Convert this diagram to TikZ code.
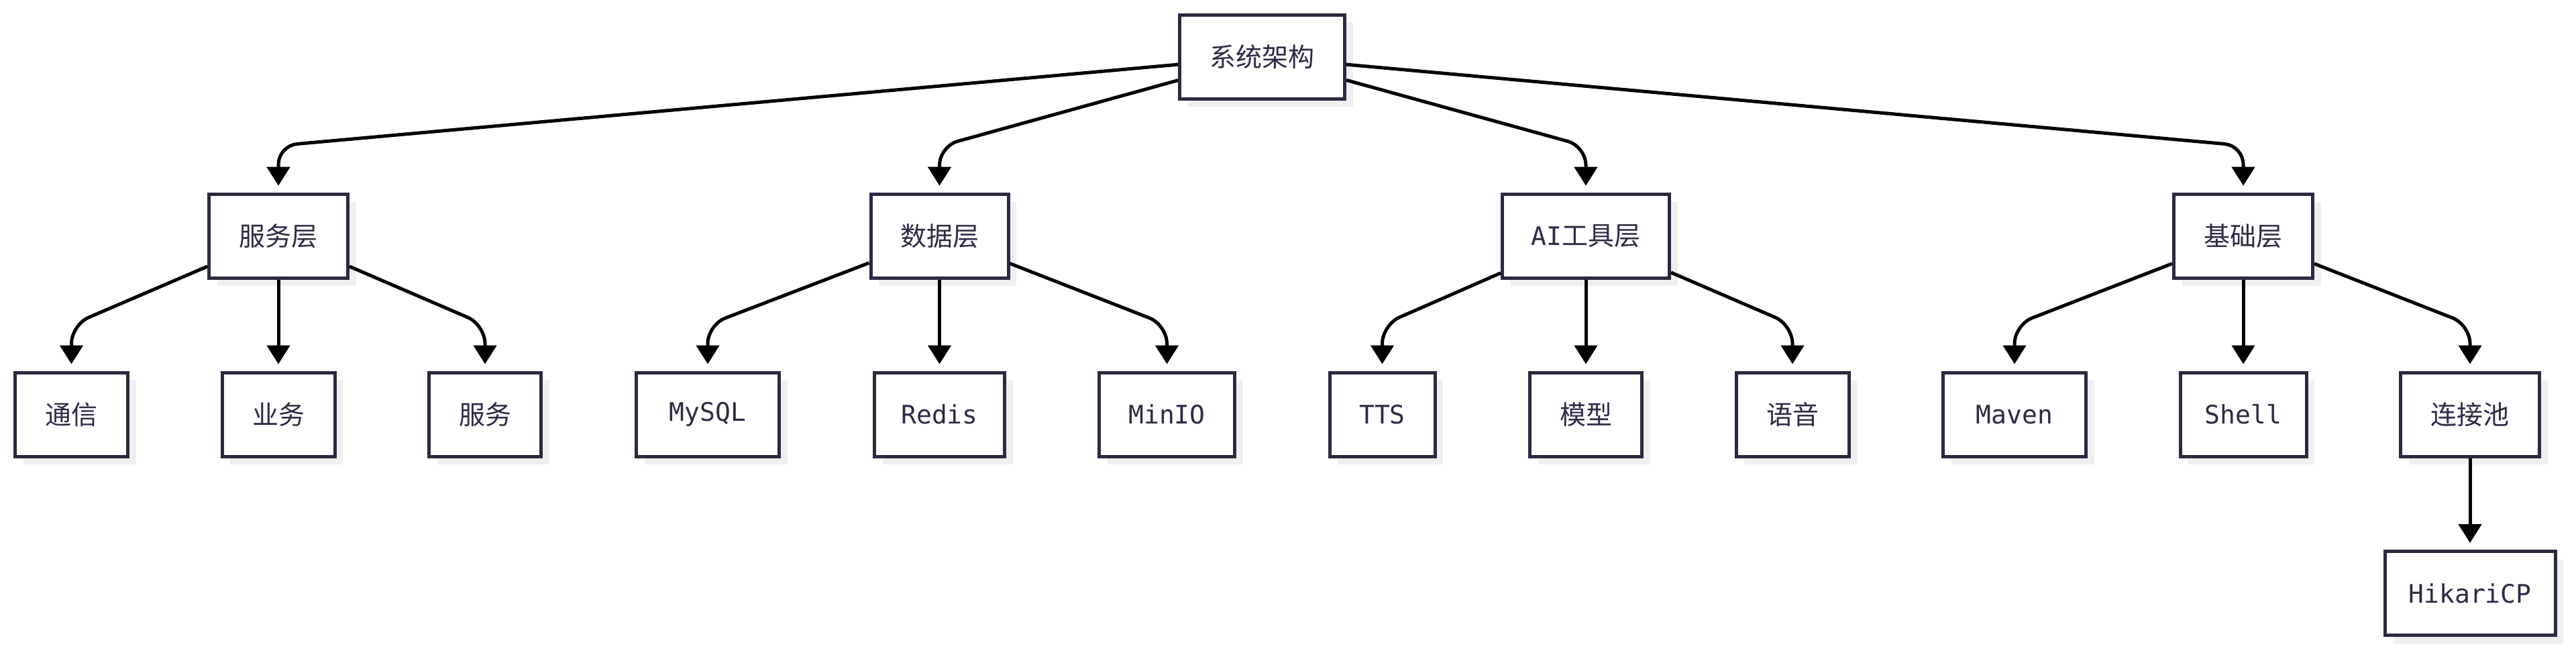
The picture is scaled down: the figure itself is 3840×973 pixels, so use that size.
\documentclass[tikz,border=0pt]{standalone}
\usepackage{fontspec}
\usetikzlibrary{arrows.meta,shadows}
\newfontfamily\cjkfont{Noto Sans CJK SC}
\newfontfamily\latfont{DejaVu Sans Mono}
\newcommand\lattxt[1]{{\latfont\fontsize{38}{46}\selectfont #1}}
\definecolor{boxline}{HTML}{2A2A40}
\definecolor{txtcol}{HTML}{2C2C45}
\definecolor{shadowgray}{HTML}{EFEFEF}
\tikzset{
  box/.style={draw=boxline, line width=5pt, fill=white, minimum height=125pt,
    inner sep=0pt, text=txtcol, font=\cjkfont\fontsize{39}{47}\selectfont,
    drop shadow={shadow xshift=12pt, shadow yshift=-12pt, fill=shadowgray, opacity=1}},
  edge/.style={draw=black, line width=5pt, rounded corners=28pt,
    -{Triangle[width=34pt,length=28pt]}, shorten >=10pt}
}
\begin{document}
\begin{tikzpicture}[x=1pt,y=-1pt]
\useasboundingbox (0,0) rectangle (3840,973);
% root
\node[box, minimum width=246pt] (root) at (1881.5,85) {系统架构};
% level 1
\node[box, minimum width=207pt] (fwc) at (415,351.7) {服务层};
\node[box, minimum width=205pt] (sjc) at (1400.5,351.7) {数据层};
\node[box, minimum width=249pt] (aic) at (2364,351.7) {\lattxt{AI}工具层};
\node[box, minimum width=207pt] (jcc) at (3344,351.7) {基础层};
% level 2
\node[box, minimum width=168pt] (tx) at (106.5,617.5) {通信};
\node[box, minimum width=168pt] (yw) at (415,617.5) {业务};
\node[box, minimum width=167pt] (fw) at (723,617.5) {服务};
\node[box, minimum width=213pt] (mysql) at (1055,617.5) {\lattxt{MySQL}};
\node[box, minimum width=194pt] (redis) at (1400.5,617.5) {\lattxt{Redis}};
\node[box, minimum width=202pt] (minio) at (1739.5,617.5) {\lattxt{MinIO}};
\node[box, minimum width=157pt] (tts) at (2060.5,617.5) {\lattxt{TTS}};
\node[box, minimum width=167pt] (mx) at (2364,617.5) {模型};
\node[box, minimum width=168pt] (yy) at (2672,617.5) {语音};
\node[box, minimum width=213pt] (maven) at (3003,617.5) {\lattxt{Maven}};
\node[box, minimum width=188pt] (shell) at (3344,617.5) {\lattxt{Shell}};
\node[box, minimum width=207pt] (ljc) at (3682,617.5) {连接池};
% level 3
\node[box, minimum width=254pt] (hk) at (3682,884) {\lattxt{HikariCP}};
% edges root -> level 1
\draw[edge] (root) -- (415,217) -- (fwc);
\draw[edge] (root) -- (1400.5,218) -- (sjc);
\draw[edge] (root) -- (2364,218) -- (aic);
\draw[edge] (root) -- (3344,217) -- (jcc);
% level 1 -> level 2
\draw[edge] (fwc) -- (106.5,484) -- (tx);
\draw[edge] (fwc) -- (yw);
\draw[edge] (fwc) -- (723,484) -- (fw);
\draw[edge] (sjc) -- (1055,484) -- (mysql);
\draw[edge] (sjc) -- (redis);
\draw[edge] (sjc) -- (1739.5,484) -- (minio);
\draw[edge] (aic) -- (2060.5,484) -- (tts);
\draw[edge] (aic) -- (mx);
\draw[edge] (aic) -- (2672,484) -- (yy);
\draw[edge] (jcc) -- (3003,484) -- (maven);
\draw[edge] (jcc) -- (shell);
\draw[edge] (jcc) -- (3682,484) -- (ljc);
% level 2 -> level 3
\draw[edge] (ljc) -- (hk);
\end{tikzpicture}
\end{document}
